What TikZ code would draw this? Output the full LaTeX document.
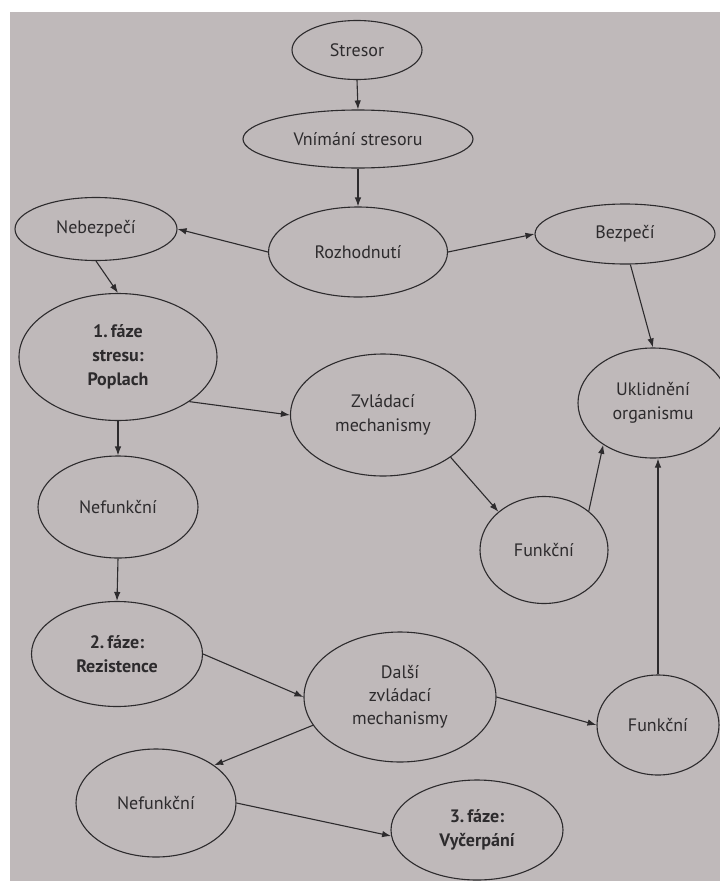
\documentclass[tikz,border=0pt]{standalone}
\usepackage{fontspec}
\setmainfont{PT Sans}
\usetikzlibrary{shapes.geometric,arrows.meta}
\definecolor{page}{RGB}{191,185,186}
\definecolor{ink}{RGB}{45,43,45}
\begin{document}
\begin{tikzpicture}[x=1pt,y=-1pt,
  el/.style={ellipse, draw=ink, line width=1.1pt, inner sep=0pt, text=ink, align=center,
             font=\fontsize{18}{24}\selectfont},
  bold/.style={font=\fontsize{18}{24}\selectfont\bfseries},
  arr/.style={draw=ink, line width=1.1pt, -{Latex[length=9pt,width=6.5pt]}}]
\fill[white] (0,0) rectangle (720,881);
\fill[page] (10,12) rectangle (720,881);
\useasboundingbox (0,0) rectangle (720,881);

\node[el, minimum width=130pt, minimum height=59pt] (stresor) at (357,50) {Stresor};
\node[el, minimum width=230pt, minimum height=58pt] (vnimani) at (358,139) {Vnímání stresoru};
\node[el, minimum width=179pt, minimum height=90pt] (rozh) at (358,252) {Rozhodnutí};
\node[el, minimum width=162pt, minimum height=63pt] (nebez) at (96,229) {Nebezpečí};
\node[el, minimum width=180pt, minimum height=60pt] (bezp) at (625,234) {Bezpečí};
\node[el, bold, minimum width=198pt, minimum height=127pt] (faze1) at (118,357) {1.\,fáze\\stresu:\\Poplach};
\node[el, minimum width=185pt, minimum height=122pt] (zvl) at (383,415) {Zvládací\\mechanismy};
\node[el, minimum width=150pt, minimum height=110pt] (ukl) at (653,403) {Uklidnění\\organismu};
\node[el, minimum width=160pt, minimum height=102pt] (nef1) at (118,507) {Nefunkční};
\node[el, minimum width=128pt, minimum height=107pt] (funk1) at (544,550) {Funkční};
\node[el, bold, minimum width=171pt, minimum height=105pt] (faze2) at (117,654) {2.\,fáze:\\Rezistence};
\node[el, font=\fontsize{18}{23}\selectfont, minimum width=192pt, minimum height=130pt] (dalsi) at (400,697) {Další\\zvládací\\mechanismy};
\node[el, minimum width=122pt, minimum height=100pt] (funk2) at (658,725) {Funkční};
\node[el, minimum width=160pt, minimum height=108pt] (nef2) at (156,803) {Nefunkční};
\node[el, bold, minimum width=172pt, minimum height=100pt] (faze3) at (477,830) {3.\,fáze:\\Vyčerpání};

\draw[arr] (stresor.south) -- (vnimani.north);
\draw[arr] (vnimani.south) -- (rozh.north);
\draw[arr] (rozh.west) -- (nebez.east);
\draw[arr] (rozh.east) -- (bezp.west);
\draw[arr] (nebez.south) -- (faze1.north);
\draw[arr] (bezp.-80) -- (ukl.north);
\draw[arr] (faze1.-32.7) -- (zvl.west);
\draw[arr] (faze1.south) -- (nef1.north);
\draw[arr] (zvl.-32.6) -- (funk1.140.6);
\draw[arr] (funk1.41.5) -- (ukl.220.6);
\draw[arr] (funk2.north) -- (ukl.south -| funk2.north);
\draw[arr] (nef1.south) -- (faze2.north);
\draw[arr] (faze2.east) -- (dalsi.west);
\draw[arr] (dalsi.east) -- (funk2.west);
\draw[arr] (dalsi.198.3) -- (nef2.33.5);
\draw[arr] (nef2.east) -- (faze3.184);
\end{tikzpicture}
\end{document}
